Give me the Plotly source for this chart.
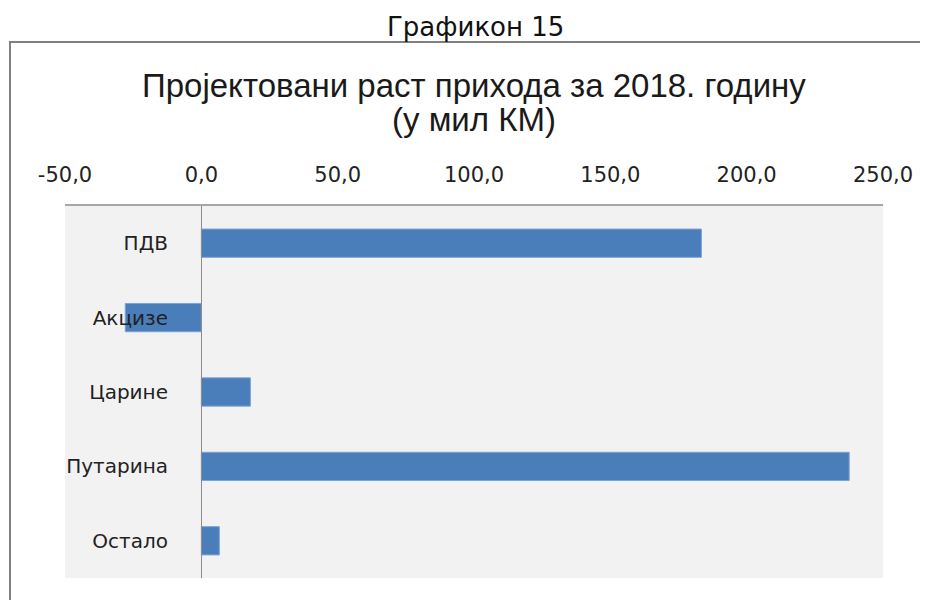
import plotly.graph_objects as go

categories = ["ПДВ", "Акцизе", "Царине", "Путарина", "Остало"]
values = [183.4, -27.9, 18.0, 237.6, 6.6]
tick_vals = [-50, 0, 50, 100, 150, 200, 250]
tick_text = ["-50,0", "0,0", "50,0", "100,0", "150,0", "200,0", "250,0"]

OFF = 8  # page body margin in the browser
W, H = 928, 600
# target screen positions of the plot area
SL, SR, ST, SB = 65, 883, 206, 578
L, R, T, B = SL - OFF, W - (SR - OFF), ST - OFF, H - (SB - OFF)
pw, ph = SR - SL, SB - ST

def px(x):
    return (x - SL) / pw

def py(y):
    return (SB - y) / ph

fig = go.Figure()
fig.add_trace(go.Bar(
    y=categories, x=values, orientation="h",
    marker=dict(color="#4a7ebb", line=dict(color="#7ea3d3", width=1)),
    width=0.38,
))

fig.update_layout(
    width=W, height=H,
    margin=dict(l=L, r=R, t=T, b=B),
    paper_bgcolor="white",
    plot_bgcolor="#f2f2f2",
    showlegend=False,
    font=dict(family="DejaVu Sans", color="#222222"),
    xaxis=dict(
        side="top", range=[-50, 250], tickvals=tick_vals, ticktext=tick_text,
        showgrid=False, zeroline=False, showline=True, linecolor="#a6a6a6", linewidth=2,
        ticks="", tickfont=dict(family="DejaVu Sans", size=21, color="#222222"),
        ticklabelstandoff=14,
    ),
    yaxis=dict(
        autorange="reversed", anchor="free", position=px(201),
        showgrid=False, zeroline=False, showline=True, linecolor="#8c8c8c", linewidth=1,
        ticks="", ticklabelstandoff=29,
        tickfont=dict(family="DejaVu Sans", size=20, color="#222222"),
    ),
    shapes=[
        dict(type="path", xref="paper", yref="paper",
             path=f"M {px(940)} {py(42)} L {px(10)} {py(42)} L {px(10)} {py(610)}",
             line=dict(color="#808080", width=2)),
    ],
    annotations=[
        dict(text="Графикон 15", xref="paper", yref="paper", x=px(476), y=py(27),
             showarrow=False, font=dict(family="DejaVu Sans", size=26, color="#111111"),
             xanchor="center", yanchor="middle"),
        dict(text="Пројектовани раст прихода за 2018. годину", xref="paper", yref="paper",
             x=px(474), y=py(85), showarrow=False,
             font=dict(family="Liberation Sans", size=33, color="#1a1a1a"),
             xanchor="center", yanchor="middle"),
        dict(text="(у мил КМ)", xref="paper", yref="paper",
             x=px(474), y=py(119), showarrow=False,
             font=dict(family="Liberation Sans", size=33, color="#1a1a1a"),
             xanchor="center", yanchor="middle"),
    ],
)

fig.write_html("out.html")
